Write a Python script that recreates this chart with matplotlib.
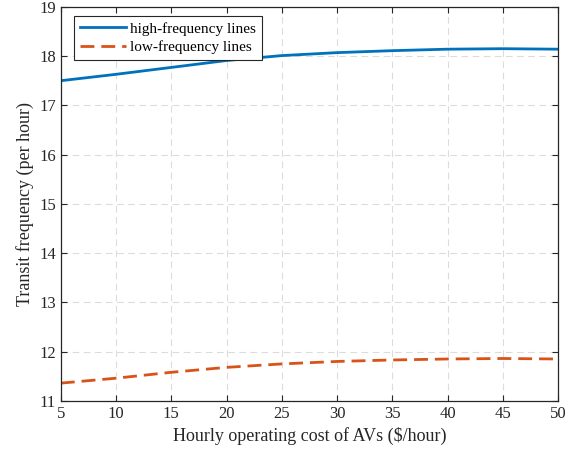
import matplotlib.pyplot as plt
import numpy as np

cost = [5, 10, 15, 20, 25, 30, 35, 40, 45, 50]
high_freq = [17.50, 17.63, 17.77, 17.91, 18.01, 18.07, 18.11, 18.14, 18.15, 18.14]
low_freq = [11.36, 11.46, 11.58, 11.68, 11.75, 11.80, 11.83, 11.85, 11.86, 11.85]

plt.rcParams['font.family'] = ['Liberation Serif', 'DejaVu Serif']
plt.rcParams['font.size'] = 12

fig = plt.figure(figsize=(5.85, 4.55), dpi=100)
ax = fig.add_axes([0.104, 0.119, 0.850, 0.866])

c1 = '#0072BD'
c2 = '#D95319'

ax.plot(cost, high_freq, color=c1, lw=2, label='high-frequency lines')
ax.plot(cost, low_freq, color=c2, lw=2, ls=(0, (5, 2.5)), label='low-frequency lines')

ax.set_xlim(5, 50)
ax.set_ylim(11, 19)
ax.set_xticks(np.arange(5, 51, 5))
ax.set_yticks(np.arange(11, 20, 1))
ax.grid(True, ls=(0, (6, 4)), lw=0.8, color='#dcdcdc')
ax.tick_params(direction='in', top=True, right=True, length=4, color='#262626', labelcolor='#262626', labelsize=12)
for s in ax.spines.values():
    s.set_color('#262626')
    s.set_linewidth(0.9)

ax.set_xlabel('Hourly operating cost of AVs ($/hour)', fontsize=13, color='#262626')
ax.set_ylabel('Transit frequency (per hour)', fontsize=13, color='#262626')

leg = ax.legend(loc='upper left', bbox_to_anchor=(0.02, 0.985), fancybox=False, framealpha=1,
                edgecolor='#262626', fontsize=11, handlelength=3.0, borderpad=0.4,
                labelspacing=0.3, handletextpad=0.3, borderaxespad=0.2)
leg.get_frame().set_linewidth(0.8)

fig.savefig('out.png', dpi=100)
